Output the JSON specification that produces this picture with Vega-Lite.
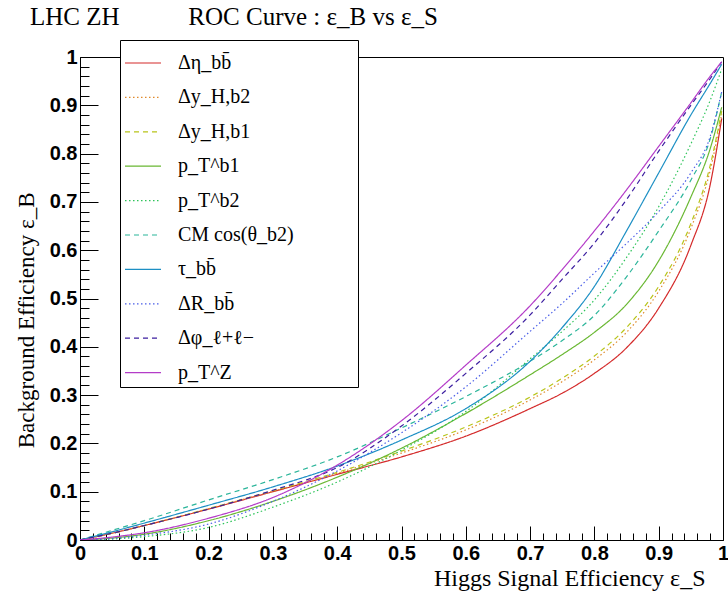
{
  "$schema": "https://vega.github.io/schema/vega-lite/v6.json",
  "width": 643,
  "height": 483,
  "autosize": {"type": "none"},
  "padding": {"left": 80, "top": 57, "right": 5, "bottom": 56},
  "background": "white",
  "config": {"view": {"stroke": "black", "strokeWidth": 1}},
  "title": {
    "text": "LHC ZH\u00a0\u00a0\u00a0\u00a0\u00a0\u00a0\u00a0\u00a0\u00a0\u00a0\u00a0ROC Curve : ε_B vs ε_S",
    "anchor": "start",
    "frame": "group",
    "dx": -50,
    "offset": -10,
    "font": "Liberation Serif",
    "fontSize": 25,
    "fontWeight": "normal",
    "baseline": "alphabetic",
    "color": "black"
  },
  "data": {
    "values": [
      {"series": "Δη_bb̄", "x": 0, "y": 0}, {"series": "Δη_bb̄", "x": 0.05, "y": 0.014}, {"series": "Δη_bb̄", "x": 0.1, "y": 0.03}, {"series": "Δη_bb̄", "x": 0.2, "y": 0.064}, {"series": "Δη_bb̄", "x": 0.3, "y": 0.1}, {"series": "Δη_bb̄", "x": 0.4, "y": 0.136}, {"series": "Δη_bb̄", "x": 0.5, "y": 0.172}, {"series": "Δη_bb̄", "x": 0.6, "y": 0.215}, {"series": "Δη_bb̄", "x": 0.7, "y": 0.272}, {"series": "Δη_bb̄", "x": 0.75, "y": 0.304}, {"series": "Δη_bb̄", "x": 0.8, "y": 0.345}, {"series": "Δη_bb̄", "x": 0.85, "y": 0.398}, {"series": "Δη_bb̄", "x": 0.9, "y": 0.48}, {"series": "Δη_bb̄", "x": 0.95, "y": 0.61}, {"series": "Δη_bb̄", "x": 0.98, "y": 0.735}, {"series": "Δη_bb̄", "x": 0.998, "y": 0.873},
      {"series": "Δy_H,b2", "x": 0, "y": 0}, {"series": "Δy_H,b2", "x": 0.05, "y": 0.014}, {"series": "Δy_H,b2", "x": 0.1, "y": 0.03}, {"series": "Δy_H,b2", "x": 0.2, "y": 0.065}, {"series": "Δy_H,b2", "x": 0.3, "y": 0.101}, {"series": "Δy_H,b2", "x": 0.4, "y": 0.138}, {"series": "Δy_H,b2", "x": 0.5, "y": 0.18}, {"series": "Δy_H,b2", "x": 0.6, "y": 0.228}, {"series": "Δy_H,b2", "x": 0.7, "y": 0.29}, {"series": "Δy_H,b2", "x": 0.75, "y": 0.328}, {"series": "Δy_H,b2", "x": 0.8, "y": 0.373}, {"series": "Δy_H,b2", "x": 0.85, "y": 0.43}, {"series": "Δy_H,b2", "x": 0.9, "y": 0.515}, {"series": "Δy_H,b2", "x": 0.95, "y": 0.645}, {"series": "Δy_H,b2", "x": 0.98, "y": 0.765}, {"series": "Δy_H,b2", "x": 0.998, "y": 0.882},
      {"series": "Δy_H,b1", "x": 0, "y": 0}, {"series": "Δy_H,b1", "x": 0.05, "y": 0.014}, {"series": "Δy_H,b1", "x": 0.1, "y": 0.03}, {"series": "Δy_H,b1", "x": 0.2, "y": 0.065}, {"series": "Δy_H,b1", "x": 0.3, "y": 0.102}, {"series": "Δy_H,b1", "x": 0.4, "y": 0.14}, {"series": "Δy_H,b1", "x": 0.5, "y": 0.184}, {"series": "Δy_H,b1", "x": 0.6, "y": 0.234}, {"series": "Δy_H,b1", "x": 0.7, "y": 0.296}, {"series": "Δy_H,b1", "x": 0.75, "y": 0.335}, {"series": "Δy_H,b1", "x": 0.8, "y": 0.381}, {"series": "Δy_H,b1", "x": 0.85, "y": 0.44}, {"series": "Δy_H,b1", "x": 0.9, "y": 0.525}, {"series": "Δy_H,b1", "x": 0.95, "y": 0.655}, {"series": "Δy_H,b1", "x": 0.98, "y": 0.775}, {"series": "Δy_H,b1", "x": 0.998, "y": 0.888},
      {"series": "p_T^b1", "x": 0, "y": 0}, {"series": "p_T^b1", "x": 0.05, "y": 0.004}, {"series": "p_T^b1", "x": 0.1, "y": 0.012}, {"series": "p_T^b1", "x": 0.2, "y": 0.04}, {"series": "p_T^b1", "x": 0.3, "y": 0.08}, {"series": "p_T^b1", "x": 0.4, "y": 0.13}, {"series": "p_T^b1", "x": 0.5, "y": 0.19}, {"series": "p_T^b1", "x": 0.6, "y": 0.262}, {"series": "p_T^b1", "x": 0.7, "y": 0.342}, {"series": "p_T^b1", "x": 0.75, "y": 0.384}, {"series": "p_T^b1", "x": 0.8, "y": 0.43}, {"series": "p_T^b1", "x": 0.85, "y": 0.488}, {"series": "p_T^b1", "x": 0.9, "y": 0.578}, {"series": "p_T^b1", "x": 0.95, "y": 0.71}, {"series": "p_T^b1", "x": 0.98, "y": 0.81}, {"series": "p_T^b1", "x": 0.998, "y": 0.896},
      {"series": "p_T^b2", "x": 0, "y": 0}, {"series": "p_T^b2", "x": 0.05, "y": 0.002}, {"series": "p_T^b2", "x": 0.1, "y": 0.007}, {"series": "p_T^b2", "x": 0.2, "y": 0.026}, {"series": "p_T^b2", "x": 0.3, "y": 0.068}, {"series": "p_T^b2", "x": 0.4, "y": 0.12}, {"series": "p_T^b2", "x": 0.5, "y": 0.186}, {"series": "p_T^b2", "x": 0.6, "y": 0.266}, {"series": "p_T^b2", "x": 0.7, "y": 0.375}, {"series": "p_T^b2", "x": 0.75, "y": 0.432}, {"series": "p_T^b2", "x": 0.8, "y": 0.497}, {"series": "p_T^b2", "x": 0.85, "y": 0.585}, {"series": "p_T^b2", "x": 0.9, "y": 0.69}, {"series": "p_T^b2", "x": 0.95, "y": 0.82}, {"series": "p_T^b2", "x": 0.98, "y": 0.91}, {"series": "p_T^b2", "x": 0.998, "y": 0.975},
      {"series": "CM cos(θ_b2)", "x": 0, "y": 0}, {"series": "CM cos(θ_b2)", "x": 0.05, "y": 0.02}, {"series": "CM cos(θ_b2)", "x": 0.1, "y": 0.04}, {"series": "CM cos(θ_b2)", "x": 0.2, "y": 0.083}, {"series": "CM cos(θ_b2)", "x": 0.3, "y": 0.125}, {"series": "CM cos(θ_b2)", "x": 0.4, "y": 0.172}, {"series": "CM cos(θ_b2)", "x": 0.5, "y": 0.232}, {"series": "CM cos(θ_b2)", "x": 0.6, "y": 0.297}, {"series": "CM cos(θ_b2)", "x": 0.7, "y": 0.37}, {"series": "CM cos(θ_b2)", "x": 0.75, "y": 0.413}, {"series": "CM cos(θ_b2)", "x": 0.8, "y": 0.465}, {"series": "CM cos(θ_b2)", "x": 0.85, "y": 0.545}, {"series": "CM cos(θ_b2)", "x": 0.9, "y": 0.64}, {"series": "CM cos(θ_b2)", "x": 0.95, "y": 0.745}, {"series": "CM cos(θ_b2)", "x": 0.98, "y": 0.83}, {"series": "CM cos(θ_b2)", "x": 0.998, "y": 0.928},
      {"series": "τ_bb̄", "x": 0, "y": 0}, {"series": "τ_bb̄", "x": 0.05, "y": 0.017}, {"series": "τ_bb̄", "x": 0.1, "y": 0.035}, {"series": "τ_bb̄", "x": 0.2, "y": 0.072}, {"series": "τ_bb̄", "x": 0.3, "y": 0.11}, {"series": "τ_bb̄", "x": 0.4, "y": 0.153}, {"series": "τ_bb̄", "x": 0.5, "y": 0.207}, {"series": "τ_bb̄", "x": 0.6, "y": 0.272}, {"series": "τ_bb̄", "x": 0.7, "y": 0.37}, {"series": "τ_bb̄", "x": 0.75, "y": 0.44}, {"series": "τ_bb̄", "x": 0.8, "y": 0.525}, {"series": "τ_bb̄", "x": 0.85, "y": 0.64}, {"series": "τ_bb̄", "x": 0.9, "y": 0.76}, {"series": "τ_bb̄", "x": 0.95, "y": 0.88}, {"series": "τ_bb̄", "x": 0.98, "y": 0.945}, {"series": "τ_bb̄", "x": 0.998, "y": 0.985},
      {"series": "ΔR_bb̄", "x": 0, "y": 0}, {"series": "ΔR_bb̄", "x": 0.05, "y": 0.003}, {"series": "ΔR_bb̄", "x": 0.1, "y": 0.01}, {"series": "ΔR_bb̄", "x": 0.2, "y": 0.033}, {"series": "ΔR_bb̄", "x": 0.3, "y": 0.08}, {"series": "ΔR_bb̄", "x": 0.4, "y": 0.143}, {"series": "ΔR_bb̄", "x": 0.5, "y": 0.222}, {"series": "ΔR_bb̄", "x": 0.6, "y": 0.317}, {"series": "ΔR_bb̄", "x": 0.7, "y": 0.432}, {"series": "ΔR_bb̄", "x": 0.75, "y": 0.49}, {"series": "ΔR_bb̄", "x": 0.8, "y": 0.553}, {"series": "ΔR_bb̄", "x": 0.85, "y": 0.614}, {"series": "ΔR_bb̄", "x": 0.9, "y": 0.68}, {"series": "ΔR_bb̄", "x": 0.95, "y": 0.76}, {"series": "ΔR_bb̄", "x": 0.98, "y": 0.835}, {"series": "ΔR_bb̄", "x": 0.998, "y": 0.928},
      {"series": "Δφ_ℓ+ℓ−", "x": 0, "y": 0}, {"series": "Δφ_ℓ+ℓ−", "x": 0.05, "y": 0.014}, {"series": "Δφ_ℓ+ℓ−", "x": 0.1, "y": 0.03}, {"series": "Δφ_ℓ+ℓ−", "x": 0.2, "y": 0.064}, {"series": "Δφ_ℓ+ℓ−", "x": 0.3, "y": 0.103}, {"series": "Δφ_ℓ+ℓ−", "x": 0.4, "y": 0.15}, {"series": "Δφ_ℓ+ℓ−", "x": 0.5, "y": 0.236}, {"series": "Δφ_ℓ+ℓ−", "x": 0.6, "y": 0.345}, {"series": "Δφ_ℓ+ℓ−", "x": 0.7, "y": 0.466}, {"series": "Δφ_ℓ+ℓ−", "x": 0.75, "y": 0.54}, {"series": "Δφ_ℓ+ℓ−", "x": 0.8, "y": 0.615}, {"series": "Δφ_ℓ+ℓ−", "x": 0.85, "y": 0.705}, {"series": "Δφ_ℓ+ℓ−", "x": 0.9, "y": 0.805}, {"series": "Δφ_ℓ+ℓ−", "x": 0.95, "y": 0.9}, {"series": "Δφ_ℓ+ℓ−", "x": 0.98, "y": 0.955}, {"series": "Δφ_ℓ+ℓ−", "x": 0.998, "y": 0.99},
      {"series": "p_T^Z", "x": 0, "y": 0}, {"series": "p_T^Z", "x": 0.05, "y": 0.006}, {"series": "p_T^Z", "x": 0.1, "y": 0.015}, {"series": "p_T^Z", "x": 0.2, "y": 0.045}, {"series": "p_T^Z", "x": 0.3, "y": 0.088}, {"series": "p_T^Z", "x": 0.4, "y": 0.155}, {"series": "p_T^Z", "x": 0.5, "y": 0.247}, {"series": "p_T^Z", "x": 0.6, "y": 0.362}, {"series": "p_T^Z", "x": 0.7, "y": 0.485}, {"series": "p_T^Z", "x": 0.75, "y": 0.56}, {"series": "p_T^Z", "x": 0.8, "y": 0.64}, {"series": "p_T^Z", "x": 0.85, "y": 0.725}, {"series": "p_T^Z", "x": 0.9, "y": 0.815}, {"series": "p_T^Z", "x": 0.95, "y": 0.905}, {"series": "p_T^Z", "x": 0.98, "y": 0.96}, {"series": "p_T^Z", "x": 0.998, "y": 0.99}
    ]
  },
  "mark": {"type": "line", "strokeWidth": 1.2, "interpolate": "monotone", "clip": true},
  "encoding": {
    "x": {
      "field": "x",
      "type": "quantitative",
      "scale": {"domain": [0, 1], "nice": false, "zero": false},
      "axis": {
        "values": [0,0.02,0.04,0.06,0.08,0.1,0.12,0.14,0.16,0.18,0.2,0.22,0.24,0.26,0.28,0.3,0.32,0.34,0.36,0.38,0.4,0.42,0.44,0.46,0.48,0.5,0.52,0.54,0.56,0.58,0.6,0.62,0.64,0.66,0.68,0.7,0.72,0.74,0.76,0.78,0.8,0.82,0.84,0.86,0.88,0.9,0.92,0.94,0.96,0.98,1],
        "title": "Higgs Signal Efficiency ε_S",
        "titleFont": "Liberation Serif",
        "titleFontSize": 24,
        "titleFontWeight": "normal",
        "titleColor": "black",
        "titleAlign": "right",
        "titleBaseline": "alphabetic",
        "titleX": 625,
        "titleY": 45,
        "labelFont": "Liberation Sans",
        "labelFontWeight": "bold",
        "labelFontSize": 20,
        "labelColor": "black",
        "labelExpr": "abs(datum.value*10 - round(datum.value*10)) < 0.001 ? format(datum.value, '~g') : ''",
        "labelFlush": false,
        "labelOverlap": false,
        "labelPadding": 17,
        "tickSize": {"condition": {"test": "abs(datum.value*10 - round(datum.value*10)) < 0.001", "value": -14}, "value": -7},
        "tickColor": "black",
        "domainColor": "black",
        "grid": false
      }
    },
    "y": {
      "field": "y",
      "type": "quantitative",
      "scale": {"domain": [0, 1], "nice": false, "zero": false},
      "axis": {
        "values": [0,0.02,0.04,0.06,0.08,0.1,0.12,0.14,0.16,0.18,0.2,0.22,0.24,0.26,0.28,0.3,0.32,0.34,0.36,0.38,0.4,0.42,0.44,0.46,0.48,0.5,0.52,0.54,0.56,0.58,0.6,0.62,0.64,0.66,0.68,0.7,0.72,0.74,0.76,0.78,0.8,0.82,0.84,0.86,0.88,0.9,0.92,0.94,0.96,0.98,1],
        "title": "Background Efficiency ε_B",
        "titleFont": "Liberation Serif",
        "titleFontSize": 23,
        "titleFontWeight": "normal",
        "titleColor": "black",
        "titleAngle": -90,
        "titleAlign": "right",
        "titleBaseline": "alphabetic",
        "titleX": -47,
        "titleY": 135,
        "labelFont": "Liberation Sans",
        "labelFontWeight": "bold",
        "labelFontSize": 20,
        "labelColor": "black",
        "labelExpr": "abs(datum.value*10 - round(datum.value*10)) < 0.001 ? format(datum.value, '~g') : ''",
        "labelFlush": false,
        "labelOverlap": false,
        "labelPadding": 21,
        "tickSize": {"condition": {"test": "abs(datum.value*10 - round(datum.value*10)) < 0.001", "value": -18}, "value": -9},
        "tickColor": "black",
        "domainColor": "black",
        "grid": false
      }
    },
    "color": {
      "field": "series",
      "type": "nominal",
      "scale": {
        "domain": ["Δη_bb̄", "Δy_H,b2", "Δy_H,b1", "p_T^b1", "p_T^b2", "CM cos(θ_b2)", "τ_bb̄", "ΔR_bb̄", "Δφ_ℓ+ℓ−", "p_T^Z"],
        "range": ["#d42a2a", "#e08a2c", "#b8c41a", "#6ab833", "#2ec45a", "#2bb59a", "#1c8fc4", "#4a5ee8", "#3c1ea0", "#b43cc8"]
      },
      "legend": {
        "title": null,
        "orient": "none",
        "legendX": 40,
        "legendY": -17,
        "symbolType": "stroke",
        "symbolSize": 1296,
        "symbolStrokeWidth": 1.2,
        "labelFont": "Liberation Serif",
        "labelFontSize": 20,
        "labelColor": "black",
        "labelLimit": 400,
        "labelOffset": 16,
        "labelExpr": "datum.label + '\u2800\u2800\u2800\u2800'",
        "rowPadding": 5.4,
        "padding": 4,
        "fillColor": "white",
        "strokeColor": "black"
      }
    },
    "strokeDash": {
      "field": "series",
      "type": "nominal",
      "scale": {
        "domain": ["Δη_bb̄", "Δy_H,b2", "Δy_H,b1", "p_T^b1", "p_T^b2", "CM cos(θ_b2)", "τ_bb̄", "ΔR_bb̄", "Δφ_ℓ+ℓ−", "p_T^Z"],
        "range": [[1, 0], [1.5, 2.5], [5, 4], [1, 0], [1.5, 2.5], [5, 4], [1, 0], [1.5, 2.5], [5, 4], [1, 0]]
      },
      "legend": {
        "title": null,
        "orient": "none",
        "legendX": 40,
        "legendY": -17,
        "symbolType": "stroke",
        "symbolSize": 1296,
        "symbolStrokeWidth": 1.2,
        "labelFont": "Liberation Serif",
        "labelFontSize": 20,
        "labelColor": "black",
        "labelLimit": 400,
        "labelOffset": 16,
        "labelExpr": "datum.label + '\u2800\u2800\u2800\u2800'",
        "rowPadding": 5.4,
        "padding": 4,
        "fillColor": "white",
        "strokeColor": "black"
      }
    }
  }
}
